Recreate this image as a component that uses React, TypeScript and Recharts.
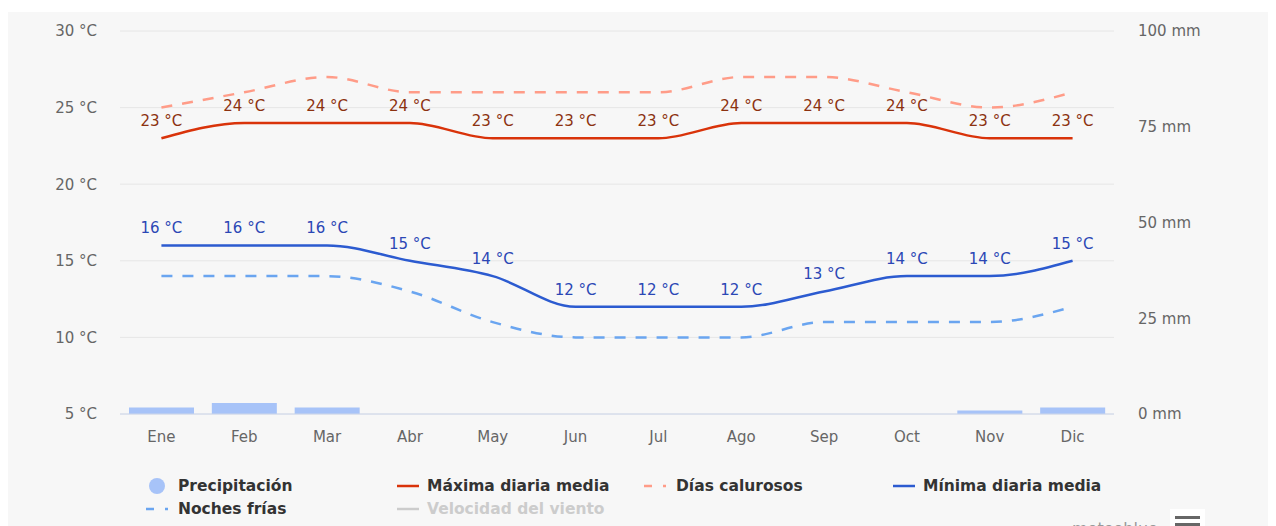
import {
  Bar,
  CartesianGrid,
  ComposedChart,
  LabelList,
  Line,
  XAxis,
  YAxis
} from 'recharts';

const months = ['Ene', 'Feb', 'Mar', 'Abr', 'May', 'Jun', 'Jul', 'Ago', 'Sep', 'Oct', 'Nov', 'Dic'];
const precipitation = [1.7, 2.9, 1.7, 0, 0, 0, 0, 0, 0, 0, 0.9, 1.7];
const maxDaily = [23, 24, 24, 24, 23, 23, 23, 24, 24, 24, 23, 23];
const hotDays = [25, 26, 27, 26, 26, 26, 26, 27, 27, 26, 25, 26];
const minDaily = [16, 16, 16, 15, 14, 12, 12, 12, 13, 14, 14, 15];
const coldNights = [14, 14, 14, 13, 11, 10, 10, 10, 11, 11, 11, 12];
const tempTicks = [5, 10, 15, 20, 25, 30];
const rainTicks = [0, 25, 50, 75, 100];

const FONT = '"DejaVu Sans", Verdana, sans-serif';

const data = months.map((month, i) => ({
  month,
  rain: precipitation[i],
  max: maxDaily[i],
  hot: hotDays[i],
  min: minDaily[i],
  cold: coldNights[i]
}));

type LegendItem = {
  label: string;
  color: string;
  kind: 'circle' | 'line' | 'dash';
  x: number;
  y: number;
  muted?: boolean;
};

// positions are relative to the grey panel (page offset 8, 12)
const legendItems: LegendItem[] = [
  { label: 'Precipitación', color: '#a7c3f8', kind: 'circle', x: 141, y: 464 },
  { label: 'Máxima diaria media', color: '#d9330a', kind: 'line', x: 389, y: 464 },
  { label: 'Días calurosos', color: '#ff9c88', kind: 'dash', x: 636, y: 464 },
  { label: 'Mínima diaria media', color: '#2c5bd0', kind: 'line', x: 885, y: 464 },
  { label: 'Noches frías', color: '#6aa5f0', kind: 'dash', x: 138, y: 487 },
  { label: 'Velocidad del viento', color: '#cccccc', kind: 'line', x: 389, y: 487, muted: true }
];

function LegendSymbol({ item }: { item: LegendItem }) {
  if (item.kind === 'circle') {
    return (
      <span
        style={{ width: 16, height: 16, borderRadius: '50%', background: item.color, display: 'inline-block', marginRight: 13 }}
      />
    );
  }
  if (item.kind === 'dash') {
    return (
      <svg width={22} height={4} style={{ marginRight: 10 }}>
        <line x1={0} y1={2} x2={22} y2={2} stroke={item.color} strokeWidth={2.5} strokeDasharray="8 11" />
      </svg>
    );
  }
  return (
    <svg width={22} height={4} style={{ marginRight: 8 }}>
      <line x1={0} y1={2} x2={22} y2={2} stroke={item.color} strokeWidth={2.5} />
    </svg>
  );
}

const tickStyle = { fill: '#666666', fontSize: 15, fontFamily: FONT };

export default function App() {
  return (
    <div
      style={{
        position: 'relative',
        width: 1276,
        height: 514,
        marginTop: 4,
        background: '#f7f7f7',
        overflow: 'hidden',
        fontFamily: FONT
      }}
    >
      <ComposedChart width={1268} height={442} data={data} margin={{ top: 19, right: 0, bottom: 0, left: 0 }}>
        <CartesianGrid yAxisId="temp" vertical={false} stroke="#e6e6e6" />
        <XAxis
          dataKey="month"
          axisLine={{ stroke: '#ccd6eb' }}
          tickLine={false}
          tickSize={0}
          tickMargin={17}
          height={40}
          tick={tickStyle}
        />
        <YAxis
          yAxisId="temp"
          orientation="left"
          width={112}
          domain={[5, 30]}
          ticks={tempTicks}
          axisLine={false}
          tickLine={false}
          tickSize={0}
          tickMargin={23}
          tickFormatter={(v) => `${v} °C`}
          tick={tickStyle}
        />
        <YAxis
          yAxisId="rain"
          orientation="right"
          width={162}
          domain={[0, 100]}
          ticks={rainTicks}
          axisLine={false}
          tickLine={false}
          tickSize={0}
          tickMargin={24}
          tickFormatter={(v) => `${v} mm`}
          tick={tickStyle}
        />
        <Bar yAxisId="rain" dataKey="rain" fill="#a7c3f8" barSize={65} isAnimationActive={false} />
        <Line
          yAxisId="temp"
          type="monotone"
          dataKey="hot"
          stroke="#ff9c88"
          strokeWidth={2.5}
          strokeDasharray="11 10"
          dot={false}
          isAnimationActive={false}
        />
        <Line
          yAxisId="temp"
          type="monotone"
          dataKey="cold"
          stroke="#6aa5f0"
          strokeWidth={2.5}
          strokeDasharray="11 10"
          dot={false}
          isAnimationActive={false}
        />
        <Line
          yAxisId="temp"
          type="monotone"
          dataKey="max"
          stroke="#d9330a"
          strokeWidth={2.5}
          dot={false}
          isAnimationActive={false}
        >
          <LabelList
            dataKey="max"
            position="top"
            offset={12}
            formatter={(v: number) => `${v} °C`}
            style={{ fill: '#8c3210', fontSize: 15, fontFamily: FONT }}
          />
        </Line>
        <Line
          yAxisId="temp"
          type="monotone"
          dataKey="min"
          stroke="#2c5bd0"
          strokeWidth={2.5}
          dot={false}
          isAnimationActive={false}
        >
          <LabelList
            dataKey="min"
            position="top"
            offset={12}
            formatter={(v: number) => `${v} °C`}
            style={{ fill: '#2b47b5', fontSize: 15, fontFamily: FONT }}
          />
        </Line>
      </ComposedChart>

      {legendItems.map((item) => (
        <div
          key={item.label}
          style={{
            position: 'absolute',
            left: item.x,
            top: item.y,
            height: 20,
            display: 'flex',
            alignItems: 'center',
            fontSize: 15.5,
            fontWeight: 'bold',
            color: item.muted ? '#cccccc' : '#333333',
            whiteSpace: 'nowrap'
          }}
        >
          <LegendSymbol item={item} />
          <span>{item.label}</span>
        </div>
      ))}

      <div style={{ position: 'absolute', left: 1064, top: 507, fontSize: 16, color: '#999999' }}>meteoblue</div>
      <div
        style={{
          position: 'absolute',
          left: 1162,
          top: 497,
          width: 35,
          height: 30,
          background: '#ffffff',
          display: 'flex',
          flexDirection: 'column',
          alignItems: 'center',
          paddingTop: 7,
          gap: 4,
          boxSizing: 'border-box'
        }}
      >
        <span style={{ width: 25, height: 3, background: '#666666', display: 'block' }} />
        <span style={{ width: 25, height: 3, background: '#666666', display: 'block' }} />
        <span style={{ width: 25, height: 3, background: '#666666', display: 'block' }} />
      </div>
    </div>
  );
}
